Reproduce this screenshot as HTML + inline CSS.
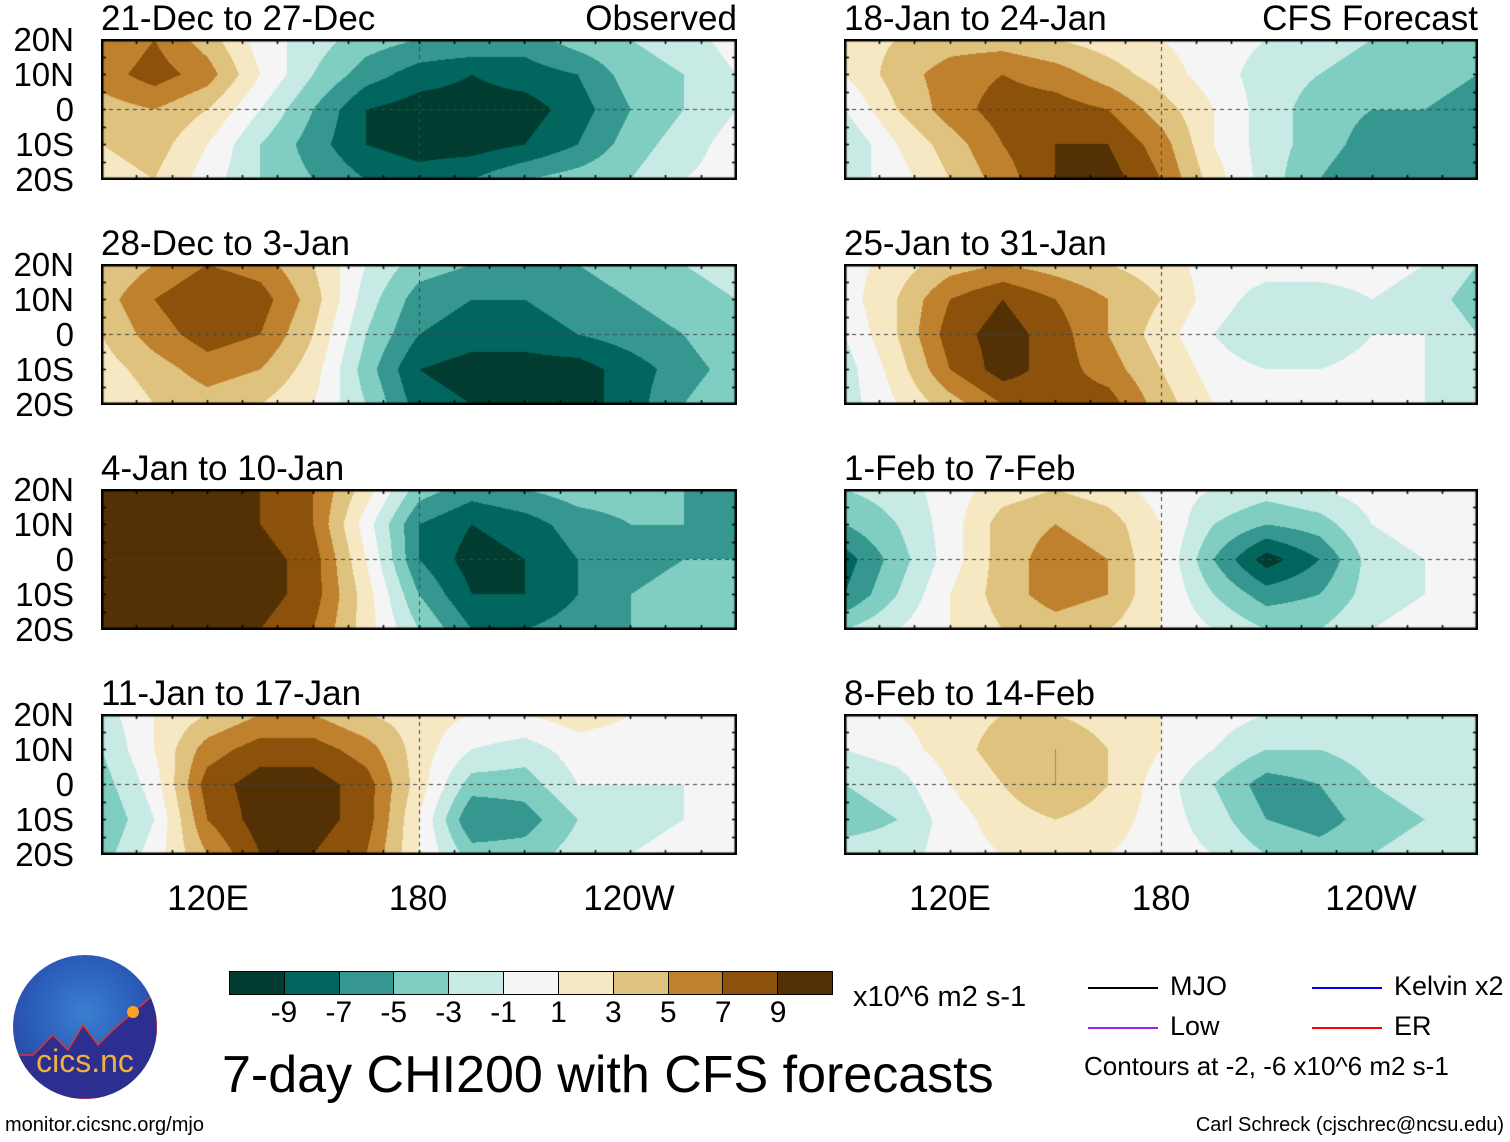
<!DOCTYPE html>
<html><head><meta charset="utf-8">
<style>
body{margin:0;background:#fff;}
#fig{position:relative;width:1510px;height:1142px;overflow:hidden;background:#fff;font-family:"Liberation Sans",sans-serif;color:#000;}
.t{position:absolute;white-space:nowrap;line-height:1;}
.pt{font-size:35px;top:1px;}
.yl{font-size:33px;width:72px;text-align:right;left:2px;}
.xl{font-size:35px;}
canvas{position:absolute;}
</style></head>
<body>
<div id="fig"></div>
<script>
// Colour levels (BrBG) and colourbar labels
const levelColors=["#003c30","#01665e","#35978f","#80cdc1","#c7eae5","#f5f5f5","#f6e8c3","#dfc27d","#bf812d","#8c510a","#543005"];
const cbLabels=["-9","-7","-5","-3","-1","1","3","5","7","9"];
const lons=[90,105,120,135,150,165,180,195,210,225,240,255,270];
const lats=[20,10,0,-10,-20];
const titles=["21-Dec to 27-Dec","28-Dec to 3-Jan","4-Jan to 10-Jan","11-Jan to 17-Jan","18-Jan to 24-Jan","25-Jan to 31-Jan","1-Feb to 7-Feb","8-Feb to 14-Feb"];
const f1=[[5,7,4,0,-2,-4,-5,-5,-6,-4,-3,-2,0],[6,8,6,1,-3,-6,-8,-9,-8,-7,-4,-3,-1],[4,5,3,-1,-5,-9,-10,-10,-10,-8,-5,-3,-1],[3,4,1,-3,-6,-9,-10,-10,-9,-7,-4,-2,0],[2,3,0,-3,-5,-7,-8,-7,-5,-4,-3,-1,0]];
const f2=[[3,5,7,6,3,-1,-4,-5,-6,-5,-4,-3,-2],[4,7,9,8,4,-2,-6,-7,-7,-6,-5,-4,-3],[3,6,8,7,3,-3,-7,-8,-8,-7,-6,-5,-3],[2,4,6,5,2,-4,-9,-10,-10,-10,-8,-6,-4],[1,3,4,3,1,-3,-8,-9,-10,-10,-8,-5,-3]];
const f3=[[10,10,10,9,7,2,-4,-6,-5,-4,-4,-5,-5],[11,11,10,9,7,0,-7,-9,-8,-6,-5,-5,-6],[11,11,11,10,8,1,-7,-10,-9,-7,-6,-5,-5],[10,10,11,10,8,2,-5,-9,-9,-7,-5,-4,-4],[9,10,10,9,7,2,-3,-7,-7,-6,-5,-4,-4]];
const f4=[[-2,1,3,5,5,3,2,1,1,2,1,0,-1],[-3,1,6,8,8,6,2,-1,-2,0,0,-1,-1],[-4,0,8,10,10,8,2,-4,-4,-1,-1,-1,-1],[-5,-1,7,10,10,8,1,-7,-6,-3,-2,-1,0],[-4,0,5,9,9,7,1,-4,-4,-2,-1,0,0]];
const f5=[[2,3,4,4,3,2,1,0,-1,-2,-3,-3,-4],[1,4,6,7,6,4,2,0,-2,-3,-4,-4,-5],[-1,3,6,8,8,7,4,1,-2,-4,-5,-5,-6],[-3,1,4,7,9,9,6,1,-2,-4,-6,-6,-6],[-2,0,3,6,9,10,7,2,-2,-5,-7,-6,-5]];
const f6=[[0,2,4,5,4,3,2,0,0,0,0,-1,-3],[0,3,7,9,7,5,3,0,-2,-2,-1,-2,-4],[-1,3,8,10,8,5,2,-1,-3,-3,-1,-1,-3],[-2,2,7,10,8,6,3,0,-1,-1,0,-1,-2],[-2,1,4,7,8,8,4,1,0,0,0,-1,-2]];
const f7=[[-3,-2,0,2,3,2,0,-1,-2,-1,0,0,0],[-5,-3,0,4,5,4,1,-3,-5,-4,-1,0,0],[-8,-4,0,4,6,5,1,-5,-10,-7,-2,-1,0],[-7,-3,1,4,6,5,1,-3,-6,-5,-2,-1,0],[-3,-1,1,3,4,3,1,-1,-3,-3,-1,0,0]];
const f8=[[0,1,2,3,3,2,1,0,-1,-2,-2,-1,-1],[-1,0,2,4,5,3,1,-1,-3,-3,-2,-1,-2],[-3,-2,1,3,5,3,0,-3,-6,-5,-3,-2,-2],[-4,-3,0,2,3,2,0,-2,-5,-6,-4,-3,-3],[-2,-2,0,1,2,1,0,-1,-3,-4,-3,-2,-2]];
const fields=[f1,f2,f3,f4,f5,f6,f7,f8];

const fig=document.getElementById('fig');
const tops=[39,264,489,714], H=141;
const lefts=[101,844], W=[636,634];
function txt(s,cls,x,y,extra){const d=document.createElement('div');d.className='t '+cls;d.textContent=s;d.style.left=x+'px';d.style.top=y+'px';if(extra)Object.assign(d.style,extra);fig.appendChild(d);return d;}
function lvl(v){return Math.max(0,Math.min(10,Math.floor((v+11)/2)));}
function hex(c){return [parseInt(c.substr(1,2),16),parseInt(c.substr(3,2),16),parseInt(c.substr(5,2),16)];}
const rgb=levelColors.map(hex);

for(let p=0;p<8;p++){
  const col=p<4?0:1,row=p%4,x0=lefts[col],y0=tops[row],w=W[col];
  const f=fields[p];
  const cv=document.createElement('canvas');
  
  
  cv.width=w;cv.height=H;cv.style.left=x0+'px';cv.style.top=y0+'px';
  fig.appendChild(cv);
  const ctx=cv.getContext('2d');const img=ctx.createImageData(w,H);
  const xs=v=>(v-lons[0])/(lons[lons.length-1]-lons[0])*(w-1);
  const ys=v=>(lats[0]-v)/(lats[0]-lats[lats.length-1])*(H-1);
  const sx=xs(lons[1])-xs(lons[0]), sy=ys(lats[1])-ys(lats[0]);
  for(let j=0;j<H;j++){
    let gy=j/sy, iy=Math.min(lats.length-2,Math.floor(gy)), ty=gy-iy;
    for(let i=0;i<w;i++){
      let gx=i/sx, ix=Math.min(lons.length-2,Math.floor(gx)), tx=gx-ix;
      const v=(f[iy][ix]*(1-tx)+f[iy][ix+1]*tx)*(1-ty)+(f[iy+1][ix]*(1-tx)+f[iy+1][ix+1]*tx)*ty;
      const c=rgb[lvl(v)],k=(j*w+i)*4;
      img.data[k]=c[0];img.data[k+1]=c[1];img.data[k+2]=c[2];img.data[k+3]=255;
    }
  }
  ctx.putImageData(img,0,0);
  ctx.strokeStyle='#444';ctx.lineWidth=1;ctx.setLineDash([4,4]);
  ctx.beginPath();ctx.moveTo(0,ys(0)+.5);ctx.lineTo(w,ys(0)+.5);ctx.moveTo(Math.round(xs(180))+.5,0);ctx.lineTo(Math.round(xs(180))+.5,H);ctx.stroke();
  ctx.setLineDash([]);
  ctx.strokeStyle='#000';ctx.lineWidth=1.5;ctx.beginPath();
  for(let L=90;L<=270;L+=10){const x=Math.round(xs(L))+.5;ctx.moveTo(x,0);ctx.lineTo(x,5);ctx.moveTo(x,H);ctx.lineTo(x,H-5);}
  for(let la=-20;la<=20;la+=5){const y=Math.round(ys(la))+.5;ctx.moveTo(0,y);ctx.lineTo(5,y);ctx.moveTo(w,y);ctx.lineTo(w-5,y);}
  ctx.stroke();
  ctx.lineWidth=3;ctx.strokeRect(1,1,w-2,H-2);
  const t=txt(titles[p],'pt',x0,y0-38);
  if(col===0){
    ["20N","10N","0","10S","20S"].forEach((s,k)=>{const d=txt(s,'yl',2,y0+ys(lats[k])-16);});
  }
}
let o=txt('Observed','pt',0,1,{left:'auto',right:(1510-737)+'px'});
o=txt('CFS Forecast','pt',0,1,{left:'auto',right:(1510-1478)+'px'});
[[0,"120E",208],[0,"180",418],[0,"120W",629],[1,"120E",950],[1,"180",1161],[1,"120W",1371]].forEach(a=>{const d=txt(a[1],'xl',a[2]-70,881,{width:'140px',textAlign:'center'});});

const cb=document.createElement('div');
Object.assign(cb.style,{position:'absolute',left:'229px',top:'971px',width:'604px',height:'24px',display:'flex',border:'1.5px solid #000',boxSizing:'border-box'});
levelColors.forEach((c,i)=>{const b=document.createElement('div');Object.assign(b.style,{flex:'1',background:c,borderLeft:i?'1.5px solid #000':'none'});cb.appendChild(b);});
fig.appendChild(cb);
cbLabels.forEach((s,i)=>{const x=229+604*(i+1)/11;const d=txt(s,'',x-30,998,{width:'60px',textAlign:'center',fontSize:'30px'});});
o=txt('x10^6 m2 s-1','',853,983,{fontSize:'29px'});
o=txt('7-day CHI200 with CFS forecasts','',222,1049,{fontSize:'52px'});
[["MJO","#000",1088,987],["Kelvin x2","#0000ff",1312,987],["Low","#a020f0",1088,1027],["ER","#ff0000",1312,1027]].forEach(a=>{
  const l=document.createElement('div');
  Object.assign(l.style,{position:'absolute',left:a[2]+'px',top:a[3]+'px',width:'70px',height:'2px',background:a[1]});fig.appendChild(l);
  const d=txt(a[0],'',a[2]+82,a[3]-14,{fontSize:'27px'});
});
o=txt('Contours at -2, -6 x10^6 m2 s-1','',1084,1053,{fontSize:'26px'});
o=txt('monitor.cicsnc.org/mjo','',5,1115,{fontSize:'20px'});
o=txt('Carl Schreck (cjschrec@ncsu.edu)','',0,1115,{fontSize:'20px',left:'auto',right:'6px'});
const lg=document.createElement('div');
Object.assign(lg.style,{position:'absolute',left:'13px',top:'955px',width:'144px',height:'144px',borderRadius:'50%',background:'radial-gradient(circle at 50% 40%,#3a7fd0 0%,#2a5bb8 50%,#2a3590 100%)',overflow:'hidden'});
lg.innerHTML='<svg width="144" height="144" style="position:absolute;left:0;top:0"><path d="M0,100 L20,100 L40,80 L55,95 L70,70 L85,90 L100,75 L140,40 L144,40 L144,144 L0,144Z" fill="#2c2f8f" stroke="#d33" stroke-width="1.5"/><circle cx="120" cy="57" r="6" fill="#f5a623"/><text x="72" y="117" text-anchor="middle" font-family="Liberation Sans,sans-serif" font-size="32" fill="#f0b040">cics.nc</text></svg>';
fig.appendChild(lg);
</script>
</body></html>
